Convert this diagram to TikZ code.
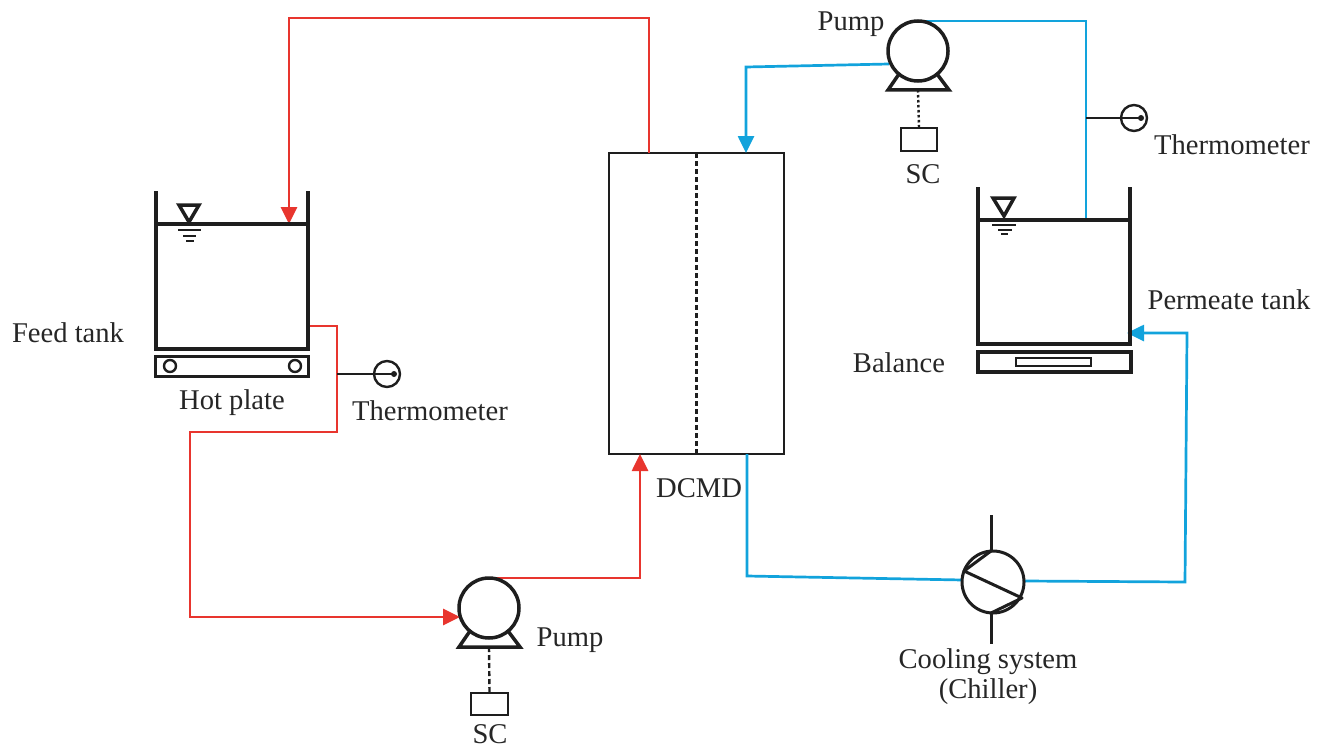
\documentclass[tikz,border=0pt]{standalone}
\usepackage{fontspec}
\setmainfont{Liberation Serif}
\usetikzlibrary{arrows.meta,calc}
\definecolor{hotred}{HTML}{E8352E}
\definecolor{coldblue}{HTML}{12A3DC}
\definecolor{inkblack}{HTML}{1E1E1E}
\tikzset{
  hotline/.style={hotred, line width=2.7pt},
  coldline/.style={coldblue, line width=2.7pt},
  flowtip/.style={-{Triangle[length=17pt,width=16pt]}},
  wall/.style={inkblack, line width=3.5pt},
  thinwall/.style={inkblack, line width=2.4pt},
  label/.style={font=\fontsize{28.6}{33}\selectfont, text=black!85, inner sep=0pt},
  pumpbody/.style={circle, draw=inkblack, fill=white, line width=3.5pt, minimum size=60pt, inner sep=0pt, outer sep=0pt},
  dial/.style={circle, draw=inkblack, line width=2.4pt, minimum size=26pt, inner sep=0pt, outer sep=0pt},
  box/.style={rectangle, draw=inkblack, line width=2.6pt, inner sep=0pt, outer sep=0pt}
}
\begin{document}
\begin{tikzpicture}[x=1pt, y=-1pt]
  \useasboundingbox (0,0) rectangle (1329,749);

  % red loop
  \node [pumpbody, draw=none, fill=none] (pumpa) at (489,608) {};
  \node [box, line width=3.5pt, minimum width=153pt, minimum height=20pt] (hotplate) at (232,366.5) {};
  \node [box, minimum width=175pt, minimum height=301pt] (dcmd) at (696.5,303.5) {};
  \coordinate (feedtop) at (289,224);
  \coordinate (feedout) at (308,326);
  \coordinate (dcmdhot) at (649,153);
  \coordinate (dcmdin) at (640,454);
  \coordinate (therma) at (337,374);
  \draw [hotline, flowtip] (dcmdhot) -- (649,18) -- (289,18) -- (feedtop);
  \draw [hotline, flowtip] (feedout) -- (337,326) -- (337,432) -- (190,432) -- (190,617) -- (460,617);
  \draw [hotline, flowtip] (pumpa.north) -- (640,578) -- (dcmdin);

  % blue loop
  \node [pumpbody, draw=none, fill=none] (pumpb) at (918,51) {};
  \node [circle, minimum size=62pt, inner sep=0pt] (chiller) at (993,582) {};
  \coordinate (chillin) at (963,580);
  \coordinate (chillout) at (1024,581);
  \coordinate (permtop) at (1086,220);
  \coordinate (permin) at (1127,333);
  \coordinate (dcmdcold) at (746,153);
  \coordinate (dcmdout) at (747,454);
  \coordinate (thermb) at (1086,118);
  \draw [coldline] (pumpb.north) -- (1086,21) -- (permtop);
  \draw [coldline, flowtip] (889,64) -- (746,67) -- (dcmdcold);
  \draw [coldline] (dcmdout) -- (747,576) -- (chillin);
  \draw [coldline, flowtip] (chillout) -- (1185,582) -- (1187,333) -- (permin);

  % feed tank
  \draw [wall] (156,191) -- (156,349) -- (308,349) -- (308,191);
  \draw [wall] (156,224) -- (308,224);
  \draw [wall] (179,205) -- (199,205) -- (189,222) -- cycle;
  \draw [wall, line width=2.4pt] (178,230) -- (201,230) (183,236) -- (196,236) (186,241) -- (194,241);
  \foreach \x in {170,295} {
    \draw [inkblack, line width=2.4pt] (\x,366) circle (6);
  }

  % permeate tank
  \draw [wall] (978,187) -- (978,344) -- (1130,344) -- (1130,187);
  \draw [wall] (978,220) -- (1130,220);
  \draw [wall] (993,198) -- (1014,198) -- (1004,216) -- cycle;
  \draw [wall, line width=2.4pt] (992,225) -- (1016,225) (998,230) -- (1012,230) (1001,234) -- (1008,234);
  \node [box, line width=3.5pt, minimum width=153pt, minimum height=20pt] (balance) at (1054.5,362) {};
  \node [box, line width=2pt, minimum width=75pt, minimum height=8pt] (balancepan) at (1053.5,362) {};

  % module
  \draw [inkblack, line width=2.6pt, dash pattern=on 5pt off 3pt] (dcmd.north) -- (dcmd.south);

  % pumps
  \foreach \p in {pumpa, pumpb} {
    \draw [wall, line join=miter] ($(\p)+(-19,23)$) -- ($(\p)+(-30,39)$) -- ($(\p)+(31,39)$) -- ($(\p)+(19,23)$);
    \node [pumpbody] at (\p) {};
  }
  \node [box, minimum width=37pt, minimum height=22pt] (sca) at (489.5,704) {};
  \node [box, minimum width=36pt, minimum height=23pt] (scb) at (919,139.5) {};
  \draw [inkblack, line width=2.4pt, dash pattern=on 5pt off 3pt] (489,647) -- (sca.north);
  \draw [inkblack, line width=2.4pt, dash pattern=on 2.5pt off 2.5pt] (918,90) -- (scb.north);

  % thermometers
  \node [dial] (diala) at (387,374) {};
  \node [dial] (dialb) at (1134,118) {};
  \draw [thinwall] (therma) -- (diala.west) -- ($(diala)+(7,0)$);
  \draw [thinwall] (thermb) -- (dialb.west) -- ($(dialb)+(7,0)$);
  \fill [inkblack] ($(diala)+(7,0)$) circle (3);
  \fill [inkblack] ($(dialb)+(7,0)$) circle (3);

  % chiller
  \node [pumpbody, minimum size=62pt, line width=3pt] at (chiller) {};
  \coordinate (chilltop) at (991,551);
  \coordinate (chillbot) at (991,613);
  \draw [thinwall, line width=3pt, line join=round] (chilltop) -- (964,571) -- (1022,598) -- (chillbot);
  \draw [thinwall, line width=3pt] (chilltop) -- (991,515);
  \draw [thinwall, line width=3pt] (chillbot) -- (991,644);

  % labels
  \node [label] (feedlabel) at (68,333) {Feed tank};
  \node [label] (platelabel) at (232,403) {Hot plate};
  \node [label] (thermalabel) at (430,411) {Thermometer};
  \node [label] (dcmdlabel) at (699,488) {DCMD};
  \node [label] (pumpalabel) at (570,640) {Pump};
  \node [label] (scalabel) at (490,734) {SC};
  \node [label] (coolabel) at (988,662) {Cooling system};
  \node [label] (chilllabel) at (988,692) {(Chiller)};
  \node [label] (pumpblabel) at (851,24) {Pump};
  \node [label] (scblabel) at (923,174) {SC};
  \node [label] (thermblabel) at (1232,145) {Thermometer};
  \node [label] (permlabel) at (1229,300) {Permeate tank};
  \node [label] (ballabel) at (899,363) {Balance};
\end{tikzpicture}
\end{document}
